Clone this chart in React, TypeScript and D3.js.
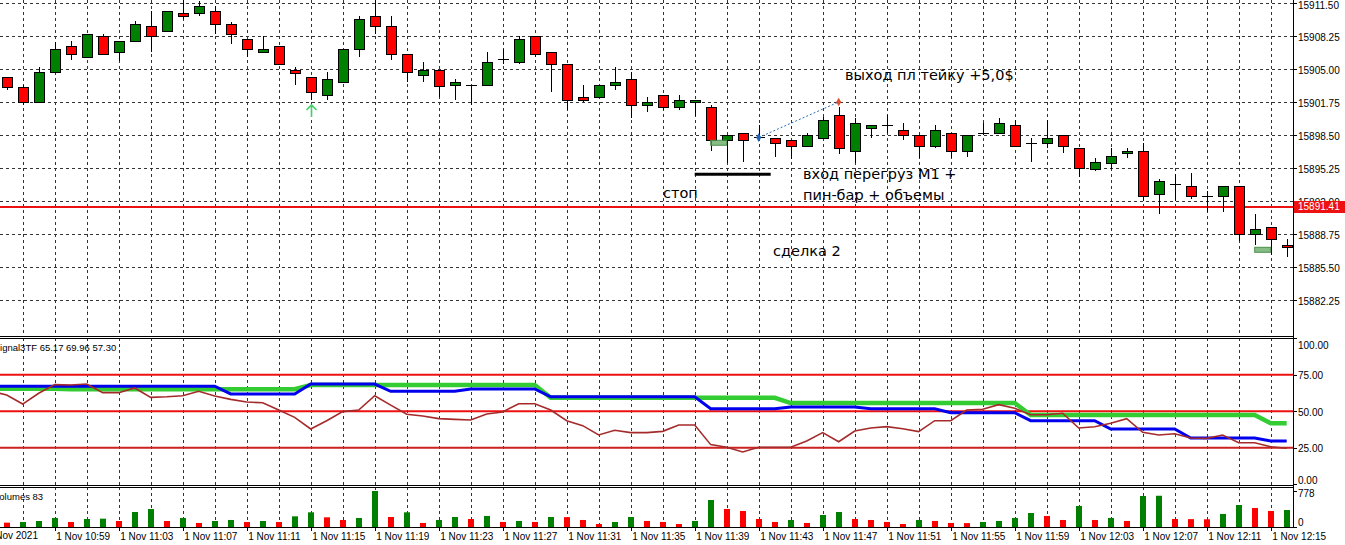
import React, { useRef, useEffect } from 'react';
import * as d3 from 'd3';

// 1-minute bars, 1 Nov 2021 10:56 .. 12:16
const opens = [
  15904.18, 15903.2, 15901.72, 15904.68, 15907.24, 15906.15, 15908.22, 15906.64, 15907.73, 15909.21,
  15908.67, 15910.49, 15910.49, 15910.68, 15909.4, 15907.93, 15906.64, 15907.24, 15904.93, 15904.18,
  15902.41, 15903.69, 15906.94, 15910.19, 15909.21, 15906.45, 15904.48, 15904.93, 15903.4, 15903.4,
  15903.4, 15905.96, 15905.66, 15908.22, 15906.64, 15905.46, 15902.21, 15902.21, 15903.4, 15903.99,
  15901.43, 15902.41, 15901.23, 15901.72, 15901.23, 15897.98, 15898.67, 15898.27, 15898.18, 15897.98,
  15897.39, 15898.18, 15900.44, 15896.86, 15899.16, 15899.46, 15898.96, 15898.47, 15897.39, 15898.67,
  15896.88, 15898.67, 15898.67, 15899.46, 15897.68, 15897.68, 15898.47, 15897.19, 15895.22, 15895.71,
  15896.68, 15896.88, 15892.66, 15893.67, 15893.45, 15892.46, 15892.46, 15893.45, 15888.72, 15889.41,
  15887.64,
];
const highs = [
  15904.18, 15903.42, 15905.23, 15907.63, 15907.76, 15908.42, 15908.42, 15907.73, 15909.7, 15910.68,
  15910.68, 15911.9, 15911.67, 15911.17, 15909.6, 15907.93, 15908.22, 15907.24, 15905.23, 15904.18,
  15904.68, 15906.94, 15910.19, 15912.0, 15910.19, 15906.45, 15905.66, 15904.93, 15903.99, 15903.45,
  15906.64, 15906.94, 15908.22, 15908.22, 15906.64, 15905.46, 15903.4, 15903.4, 15905.17, 15904.68,
  15902.21, 15902.41, 15902.41, 15901.92, 15901.43, 15898.47, 15898.67, 15899.46, 15898.18, 15897.98,
  15898.67, 15900.3, 15901.23, 15900.15, 15899.46, 15900.44, 15899.65, 15898.47, 15899.46, 15898.67,
  15898.47, 15899.65, 15900.15, 15899.95, 15898.18, 15899.95, 15898.47, 15897.19, 15896.19, 15897.19,
  15897.19, 15897.68, 15894.14, 15894.63, 15894.73, 15892.96, 15893.45, 15893.45, 15890.69, 15889.41,
  15888.23,
];
const lows = [
  15902.93, 15901.43, 15901.72, 15904.68, 15905.89, 15906.15, 15906.45, 15905.82, 15907.73, 15906.64,
  15908.67, 15909.89, 15910.19, 15908.42, 15907.43, 15906.15, 15906.64, 15905.46, 15903.4, 15901.95,
  15901.92, 15903.69, 15906.15, 15908.42, 15905.89, 15903.69, 15903.69, 15902.21, 15901.92, 15901.43,
  15903.4, 15905.46, 15905.46, 15906.15, 15902.71, 15900.93, 15901.72, 15902.21, 15902.9, 15900.15,
  15900.74, 15900.93, 15900.93, 15900.34, 15896.88, 15895.71, 15895.87, 15898.18, 15896.36, 15896.17,
  15897.39, 15898.18, 15896.67, 15895.71, 15898.18, 15898.7, 15897.98, 15896.28, 15897.19, 15896.19,
  15896.38, 15898.47, 15898.67, 15897.39, 15895.89, 15897.19, 15896.68, 15894.41, 15894.91, 15895.12,
  15896.19, 15892.03, 15890.69, 15892.03, 15892.17, 15890.89, 15890.89, 15888.03, 15887.64, 15886.65,
  15886.46,
];
const closes = [
  15903.2, 15901.72, 15904.68, 15906.94, 15906.45, 15908.42, 15906.45, 15907.73, 15909.4, 15908.22,
  15910.68, 15910.19, 15911.17, 15909.4, 15908.42, 15906.94, 15906.94, 15905.46, 15904.68, 15902.71,
  15903.99, 15906.94, 15909.89, 15909.21, 15906.45, 15904.68, 15904.93, 15903.4, 15903.69, 15903.4,
  15905.66, 15905.96, 15907.93, 15906.45, 15905.46, 15901.92, 15901.92, 15903.4, 15903.69, 15901.43,
  15901.72, 15901.23, 15901.92, 15901.92, 15897.98, 15898.47, 15897.98, 15898.27, 15897.68, 15897.39,
  15898.47, 15899.95, 15897.19, 15899.65, 15899.46, 15899.46, 15898.47, 15897.39, 15898.96, 15896.88,
  15898.47, 15898.67, 15899.65, 15897.39, 15897.68, 15898.18, 15897.39, 15895.22, 15895.89, 15896.4,
  15896.88, 15892.46, 15893.94, 15893.67, 15892.46, 15892.46, 15893.45, 15888.72, 15889.21, 15888.23,
  15887.44,
];

const volumes = [
  100, 113, 135, 200, 113, 178, 185, 135, 328, 392,
  135, 200, 93, 135, 157, 113, 135, 113, 235, 321,
  214, 157, 200, 778, 221, 321, 93, 157, 221, 178,
  243, 114, 136, 114, 221, 218, 157, 71, 114, 221,
  136, 114, 71, 136, 585, 393, 350, 178, 114, 157,
  93, 264, 328, 178, 157, 114, 71, 157, 136, 93,
  90, 114, 136, 200, 307, 243, 157, 457, 157, 200,
  136, 671, 676, 178, 175, 172, 286, 478, 414, 350,
  371,
];

// Signal3TF: brown = current TF, blue = middle TF, green = higher TF
// first value belongs to the bar just left of the visible window
const signalMain = [
  63.8,
  61.1, 54.9, 62.3, 68.2, 67.9, 68.6, 62.7, 62.7, 65.9, 59.5,
  59.9, 60.6, 63.6, 60.4, 58.1, 56.3, 55.8, 50.8, 45.8, 37.8,
  43.5, 49.7, 50.8, 60.6, 54.2, 47.9, 46.7, 44.9, 44.4, 44.0,
  48.1, 49.5, 55.1, 55.1, 50.8, 43.5, 40.1, 33.7, 36.9, 35.3,
  35.3, 36.2, 40.5, 40.5, 27.1, 25.3, 22.1, 25.3, 25.3, 25.3,
  29.6, 35.3, 29.1, 36.4, 38.5, 39.4, 38.0, 36.0, 43.5, 43.5,
  50.8, 51.3, 54.5, 52.0, 47.6, 47.6, 48.6, 38.5, 39.4, 41.7,
  44.9, 35.5, 33.7, 34.6, 31.6, 31.4, 33.7, 28.4, 28.4, 25.7,
  24.6,
];
const signalMid = [
  67.1,
  67.1, 67.1, 67.1, 67.1, 67.1, 67.1, 67.1, 67.1, 67.1, 67.1,
  67.1, 67.1, 67.1, 67.1, 61.8, 61.8, 61.8, 61.8, 61.8, 68.6,
  68.6, 68.6, 68.6, 68.6, 63.6, 63.6, 63.6, 63.6, 63.6, 65.2,
  65.2, 65.2, 65.2, 65.2, 59.9, 59.9, 59.9, 59.9, 59.9, 59.9,
  59.9, 59.9, 59.9, 59.9, 51.7, 51.7, 51.7, 51.7, 51.7, 52.9,
  52.9, 52.9, 52.9, 52.9, 51.7, 51.7, 51.7, 51.7, 51.7, 49.0,
  49.0, 49.0, 49.0, 49.0, 43.5, 43.5, 43.5, 43.5, 43.5, 37.8,
  37.8, 37.8, 37.8, 37.8, 31.6, 31.6, 31.6, 31.6, 31.6, 29.6,
  29.6,
];
const signalHigh = [
  65.4,
  65.4, 65.4, 65.4, 65.4, 65.0, 65.0, 65.0, 65.0, 65.0, 65.0,
  65.0, 65.0, 65.0, 65.0, 65.0, 65.0, 65.0, 65.0, 65.0, 67.9,
  67.9, 67.9, 67.9, 67.9, 67.9, 67.9, 67.9, 67.9, 67.9, 67.9,
  67.9, 67.9, 67.9, 67.9, 59.2, 59.2, 59.2, 59.2, 59.2, 59.2,
  59.2, 59.2, 59.2, 59.2, 59.2, 59.2, 59.2, 59.2, 59.2, 55.6,
  55.6, 55.6, 55.6, 55.6, 55.6, 55.6, 55.6, 55.6, 55.6, 55.6,
  55.6, 55.6, 55.6, 55.6, 47.4, 47.4, 47.4, 47.4, 47.4, 47.4,
  47.4, 47.4, 47.4, 47.4, 47.4, 47.4, 47.4, 47.4, 47.4, 41.7,
  41.7,
];
const signalLevels = [75, 50, 25];

const priceTicks = [15911.5, 15908.25, 15905.0, 15901.75, 15898.5, 15895.25, 15892.0, 15888.75, 15885.5, 15882.25];
const signalTicks = [100, 75, 50, 25, 0];
const volumeTicks = [778, 0];
const timeLabels = [
  '1 Nov 10:59', '1 Nov 11:03', '1 Nov 11:07', '1 Nov 11:11', '1 Nov 11:15',
  '1 Nov 11:19', '1 Nov 11:23', '1 Nov 11:27', '1 Nov 11:31', '1 Nov 11:35',
  '1 Nov 11:39', '1 Nov 11:43', '1 Nov 11:47', '1 Nov 11:51', '1 Nov 11:55',
  '1 Nov 11:59', '1 Nov 12:03', '1 Nov 12:07', '1 Nov 12:11', '1 Nov 12:15',
];
const timeLabelIdx = timeLabels.map((_, i) => 3 + i * 4);

const bidPrice = 15891.41;
// trade 2 marks
const entry = { idx: 47, price: 15898.25 };
const exit = { idx: 52, price: 15901.75 };
const stopLine = { from: 43, to: 47.75, price: 15894.63 };
const boxes = [
  { from: 44, to: 45, top: 15897.98, bottom: 15897.49 },
  { from: 78, to: 79, top: 15887.44, bottom: 15886.95 },
];
const arrowIdx = 19;

const notes = [
  { text: 'выход пл тейку +5,0$', x: 845, y: 80 },
  { text: 'вход перегруз М1 +', x: 803, y: 179 },
  { text: 'пин-бар + объемы', x: 803, y: 200 },
  { text: 'стоп', x: 663, y: 198 },
  { text: 'сделка 2', x: 773, y: 256 },
];

const AXIS_FONT = "'Liberation Sans', Arial, sans-serif";
const NOTE_FONT = "'DejaVu Sans', Verdana, sans-serif";

function MtChart() {
  const svgRef = useRef<SVGSVGElement>(null);

  useEffect(() => {
    if (!svgRef.current) return;
    const svg = d3.select(svgRef.current);
    svg.selectAll('*').remove();

    const width = 1345;
    const plotRight = 1293;
    const main = { top: 0, bottom: 336 };
    const sig = { top: 338, bottom: 485 };
    const vol = { top: 487, bottom: 527 };

    const x = d3.scaleLinear().domain([0, 80]).range([6.7, 1286.7]);
    const y = d3.scaleLinear().domain([15882.25, 15911.5]).range([300, 3]);
    const ys = d3.scaleLinear().domain([0, 100]).range([484.2, 338.2]);
    const yv = d3.scaleLinear().domain([0, 778]).range([527.3, 491]);

    svg.append('rect').attr('width', width).attr('height', 545).attr('fill', '#fff');

    const defs = svg.append('defs');
    [['clipMain', main], ['clipSig', sig], ['clipVol', vol]].forEach(([id, p]: any) => {
      defs.append('clipPath').attr('id', id)
        .append('rect').attr('x', 0).attr('y', p.top).attr('width', plotRight).attr('height', p.bottom - p.top);
    });

    const gridIdx = d3.range(1, 80, 2);

    // panel grids
    const panels: [string, { top: number; bottom: number }][] = [['clipMain', main], ['clipSig', sig], ['clipVol', vol]];
    panels.forEach(([id, p]) => {
      svg.append('g').attr('clip-path', `url(#${id})`)
        .selectAll('line').data(gridIdx).enter().append('line')
        .attr('x1', d => Math.round(x(d)) + 0.5).attr('x2', d => Math.round(x(d)) + 0.5)
        .attr('y1', p.top).attr('y2', p.bottom)
        .attr('stroke', '#333').attr('stroke-dasharray', '3,3').attr('shape-rendering', 'crispEdges');
    });
    svg.append('g').selectAll('line').data(priceTicks).enter().append('line')
      .attr('x1', 0).attr('x2', plotRight)
      .attr('y1', d => Math.round(y(d)) + 0.5).attr('y2', d => Math.round(y(d)) + 0.5)
      .attr('stroke', '#333').attr('stroke-dasharray', '3,3').attr('shape-rendering', 'crispEdges');

    // main panel
    const gm = svg.append('g').attr('clip-path', 'url(#clipMain)');

    gm.append('line')
      .attr('x1', 0).attr('x2', plotRight).attr('y1', y(bidPrice)).attr('y2', y(bidPrice))
      .attr('stroke', '#ee1111').attr('stroke-width', 2);

    const idx = d3.range(opens.length);
    const bodyW = 10;

    gm.append('g').selectAll('line').data(idx).enter().append('line')
      .attr('x1', i => Math.round(x(i)) + 0.5).attr('x2', i => Math.round(x(i)) + 0.5)
      .attr('y1', i => y(highs[i])).attr('y2', i => y(lows[i]))
      .attr('stroke', '#000').attr('shape-rendering', 'crispEdges');

    const bodies = idx.filter(i => opens[i] !== closes[i]);
    gm.append('g').selectAll('rect').data(bodies).enter().append('rect')
      .attr('x', i => Math.round(x(i)) - bodyW / 2 + 0.5)
      .attr('y', i => Math.round(y(Math.max(opens[i], closes[i]))) + 0.5)
      .attr('width', bodyW)
      .attr('height', i => Math.max(1, Math.round(y(Math.min(opens[i], closes[i])) - y(Math.max(opens[i], closes[i])))))
      .attr('fill', i => (closes[i] > opens[i] ? '#008000' : '#ff0000'))
      .attr('stroke', '#000').attr('shape-rendering', 'crispEdges');

    const dojis = idx.filter(i => opens[i] === closes[i]);
    gm.append('g').selectAll('line').data(dojis).enter().append('line')
      .attr('x1', i => Math.round(x(i)) - bodyW / 2).attr('x2', i => Math.round(x(i)) + bodyW / 2 + 1)
      .attr('y1', i => Math.round(y(opens[i])) + 0.5).attr('y2', i => Math.round(y(opens[i])) + 0.5)
      .attr('stroke', '#000').attr('shape-rendering', 'crispEdges');

    // trade boxes
    gm.append('g').selectAll('rect').data(boxes).enter().append('rect')
      .attr('x', d => x(d.from)).attr('y', d => y(d.top))
      .attr('width', d => x(d.to) - x(d.from)).attr('height', d => y(d.bottom) - y(d.top))
      .attr('fill', '#5fa55f').attr('fill-opacity', 0.75).attr('stroke', '#4a8f4a');

    // stop line
    gm.append('line')
      .attr('x1', x(stopLine.from)).attr('x2', x(stopLine.to))
      .attr('y1', y(stopLine.price)).attr('y2', y(stopLine.price))
      .attr('stroke', '#000').attr('stroke-width', 3);

    // entry -> exit
    gm.append('line')
      .attr('x1', x(entry.idx)).attr('y1', y(entry.price))
      .attr('x2', x(exit.idx)).attr('y2', y(exit.price))
      .attr('stroke', '#2a6fb0').attr('stroke-dasharray', '2,2');
    const diamond = d3.symbol().type(d3.symbolDiamond).size(22);
    gm.append('path').attr('d', diamond()!)
      .attr('transform', `translate(${x(entry.idx)},${y(entry.price)})`).attr('fill', '#1f64b4');
    gm.append('path').attr('d', diamond()!)
      .attr('transform', `translate(${x(exit.idx)},${y(exit.price)})`).attr('fill', '#e0502a');

    // up arrow
    const ax = Math.round(x(arrowIdx)) + 0.5;
    const ay = y(lows[arrowIdx]) + 5;
    gm.append('path')
      .attr('d', `M${ax},${ay + 12}V${ay}M${ax - 5},${ay + 5}L${ax},${ay}L${ax + 5},${ay + 5}`)
      .attr('fill', 'none').attr('stroke', '#3fd06a').attr('stroke-width', 1.6);

    // notes
    svg.append('g').selectAll('text').data(notes).enter().append('text')
      .attr('x', d => d.x).attr('y', d => d.y)
      .style('font-family', NOTE_FONT).style('font-size', '14.5px').attr('fill', '#000')
      .text(d => d.text);

    // signal panel
    const gs = svg.append('g').attr('clip-path', 'url(#clipSig)');
    gs.selectAll('line.lvl').data(signalLevels).enter().append('line')
      .attr('x1', 0).attr('x2', plotRight)
      .attr('y1', d => ys(d)).attr('y2', d => ys(d))
      .attr('stroke', d => (d === 25 ? '#cc2222' : '#ee1111')).attr('stroke-width', 2);

    // arrays carry one leading bar before index 0
    const line = (arr: number[]) => d3.line<number>().x((_, i) => x(i - 1)).y(d => ys(d))(arr)!;
    gs.append('path').attr('d', line(signalHigh)).attr('fill', 'none').attr('stroke', '#33cc33').attr('stroke-width', 4.5);
    gs.append('path').attr('d', line(signalMid)).attr('fill', 'none').attr('stroke', '#0000ee').attr('stroke-width', 3);
    gs.append('path').attr('d', line(signalMain)).attr('fill', 'none').attr('stroke', '#a52a2a').attr('stroke-width', 1.6);

    // volumes
    const gv = svg.append('g').attr('clip-path', 'url(#clipVol)');
    gv.selectAll('rect').data(volumes).enter().append('rect')
      .attr('x', (_, i) => Math.round(x(i)) - 3)
      .attr('y', d => yv(d)).attr('width', 6)
      .attr('height', d => yv(0) - yv(d))
      .attr('fill', (d, i) => (i > 0 && d > volumes[i - 1] ? '#008000' : '#ff0000'));

    // panel frames
    const frame = svg.append('g').attr('stroke', '#000').attr('shape-rendering', 'crispEdges');
    [main.bottom, sig.top, sig.bottom, vol.top, vol.bottom].forEach(v => {
      frame.append('line').attr('x1', 0).attr('x2', plotRight).attr('y1', v + 0.5).attr('y2', v + 0.5);
    });
    frame.append('line').attr('x1', plotRight + 0.5).attr('x2', plotRight + 0.5).attr('y1', 0).attr('y2', vol.bottom + 1);

    const styleAxis = (g: any) => {
      g.select('.domain').remove();
      g.selectAll('.tick line').attr('stroke', '#000').attr('shape-rendering', 'crispEdges');
      g.selectAll('text').style('font-family', AXIS_FONT).style('font-size', '10px').attr('fill', '#000');
    };

    // price axis
    svg.append('g').attr('transform', `translate(${plotRight},0)`)
      .call(d3.axisRight(y).tickValues(priceTicks).tickSize(4).tickPadding(1).tickFormat(d => (+d).toFixed(2)))
      .call(styleAxis)
      .call(g => g.selectAll('text').attr('dy', '0.4em')
        .attr('transform', (d: any) => `translate(0,${Math.max(y(d), 4.5) - y(d)})`));

    // bid label
    const bid = svg.append('g').attr('transform', `translate(${plotRight + 1},${y(bidPrice)})`);
    bid.append('rect').attr('x', 0).attr('y', -6).attr('width', 52).attr('height', 12).attr('fill', '#ee1111');
    bid.append('text').attr('x', 4).attr('y', 3.5).text(bidPrice.toFixed(2))
      .style('font-family', AXIS_FONT).style('font-size', '10px').attr('fill', '#fff');

    // signal axis
    const sigAxisY = (v: number) => Math.min(Math.max(ys(v), sig.top + 6), sig.bottom - 6);
    const sa = svg.append('g').attr('transform', `translate(${plotRight},0)`)
      .call(d3.axisRight(ys).tickValues(signalTicks).tickSize(4).tickPadding(1).tickFormat(d => (+d).toFixed(2)))
      .call(styleAxis);
    sa.selectAll('.tick text').attr('transform', (d: any) => `translate(0,${sigAxisY(d) - ys(d)})`).attr('dy', '0.4em');

    // volume axis
    const va = svg.append('g').attr('transform', `translate(${plotRight},0)`)
      .call(d3.axisRight(yv).tickValues(volumeTicks).tickSize(4).tickPadding(1).tickFormat(d => String(d)))
      .call(styleAxis);
    va.selectAll('.tick text').attr('transform', (d: any) => `translate(0,${d === 0 ? -5.5 : 1.5})`).attr('dy', '0.4em');

    // time axis
    svg.append('g').attr('transform', `translate(0,${vol.bottom})`)
      .call(d3.axisBottom(x).tickValues(timeLabelIdx).tickSize(4).tickPadding(2).tickFormat((_, i) => timeLabels[i]))
      .call(styleAxis)
      .call(g => g.selectAll('.tick line').attr('transform', 'translate(0.5,0)'))
      .call(g => g.selectAll('text').attr('text-anchor', 'start').attr('x', 1));
    svg.append('text').attr('x', 38).attr('y', 539).attr('text-anchor', 'end').text('1 Nov 2021')
      .style('font-family', AXIS_FONT).style('font-size', '10px');

    // panel captions
    svg.append('text').attr('x', -6.3).attr('y', 350.5).text('Signal3TF 65.17 69.96 57.30')
      .style('font-family', AXIS_FONT).style('font-size', '9.5px');
    svg.append('text').attr('x', -6.5).attr('y', 500).text('Volumes 83')
      .style('font-family', AXIS_FONT).style('font-size', '9.5px');
  }, []);

  return <svg ref={svgRef} width={1345} height={545} style={{ display: 'block' }} />;
}

export default function App() {
  return (
    <div style={{ position: 'fixed', left: 0, top: 0, width: 1345, height: 545, background: '#fff' }}>
      <MtChart />
    </div>
  );
}
